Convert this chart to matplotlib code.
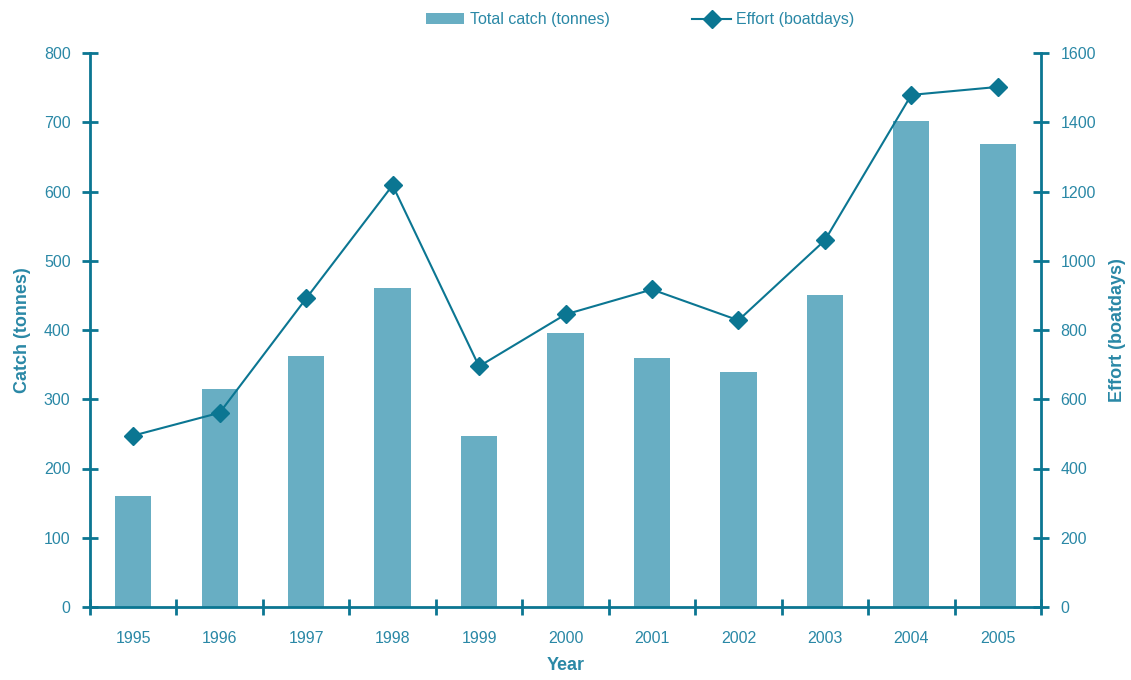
import numpy as np
import matplotlib
matplotlib.use("Agg")
import matplotlib.pyplot as plt
from matplotlib.ticker import FixedLocator, NullFormatter

plt.rcParams['font.family'] = ['Liberation Sans', 'DejaVu Sans']

years = ["1995", "1996", "1997", "1998", "1999", "2000", "2001", "2002", "2003", "2004", "2005"]
catch = [161, 315, 362, 461, 247, 396, 359, 339, 450, 702, 668]
effort = [495, 561, 891, 1218, 695, 845, 917, 828, 1059, 1479, 1502]

axis_col = "#0B7692"
text_col = "#2A88A6"
bar_col = "#68AEC3"

fig = plt.figure(figsize=(11.31, 6.80), dpi=100)
ax = fig.add_axes([90/1131, 1-607/680, (1041-90)/1131, (607-53)/680])
x = np.arange(len(years))

b = ax.bar(x, catch, width=0.42, color=bar_col, label="Total catch (tonnes)", zorder=2)
ax.set_xlim(-0.5, len(years) - 0.5)
ax.set_ylim(0, 800)
ax.set_yticks(range(0, 801, 100))

ax2 = ax.twinx()
l, = ax2.plot(x, effort, color=axis_col, lw=1.5, marker="D", markersize=9,
              label="Effort (boatdays)", zorder=3)
ax2.set_ylim(0, 1600)
ax2.set_yticks(range(0, 1601, 200))

# x ticks: labels at centres, tick marks at boundaries
ax.set_xticks(x)
ax.set_xticklabels(years)
ax.tick_params(axis="x", which="major", length=0, pad=17)
ax.xaxis.set_minor_locator(FixedLocator(np.arange(-0.5, len(years), 1)))
ax.xaxis.set_minor_formatter(NullFormatter())
ax.tick_params(axis="x", which="minor", direction="inout", length=12, width=2, color=axis_col)

for a in (ax, ax2):
    for s in a.spines.values():
        s.set_color(axis_col)
        s.set_linewidth(2)
    a.spines["top"].set_visible(False)
    a.tick_params(axis="y", direction="inout", length=12, width=2, color=axis_col,
                  labelcolor=text_col, labelsize=11.5, pad=8)
ax2.spines["left"].set_visible(False)
ax2.spines["bottom"].set_visible(False)
ax.spines["right"].set_visible(False)
ax.tick_params(axis="x", labelcolor=text_col, labelsize=11.5)

ax.set_xlabel("Year", color=text_col, fontsize=13, fontweight="bold", labelpad=8)
ax.set_ylabel("Catch (tonnes)", color=text_col, fontsize=13, fontweight="bold", labelpad=9)
ax2.set_ylabel("Effort (boatdays)", color=text_col, fontsize=13, fontweight="bold", labelpad=9)

leg = fig.legend([b, l], ["Total catch (tonnes)", "Effort (boatdays)"], loc="upper center",
                 bbox_to_anchor=(0.566, 1.003), ncol=2, frameon=False, fontsize=11.5,
                 columnspacing=5.2, handlelength=2.4, handletextpad=0.35)
for t in leg.get_texts():
    t.set_color(text_col)

fig.savefig("out.png", dpi=100)
